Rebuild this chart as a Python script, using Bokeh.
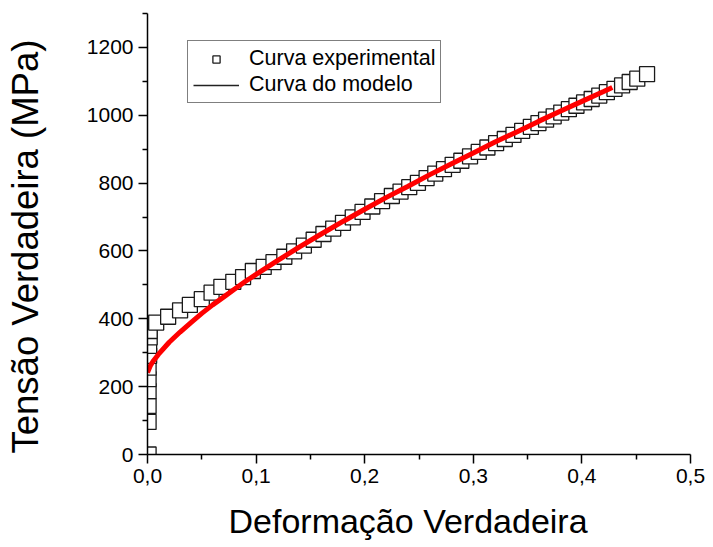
from bokeh.plotting import figure
from bokeh.models import Range1d, FixedTicker, Legend, LegendItem, CustomJSTickFormatter, Title
from bokeh.embed import file_html
from bokeh.resources import INLINE

# Experimental curve (true strain, true stress MPa)
strain_exp = [0.001, 0.001, 0.001, 0.001, 0.001, 0.001, 0.0015, 0.0015, 0.002, 0.002,
              0.008, 0.019, 0.030, 0.039, 0.050, 0.059, 0.068, 0.079, 0.088, 0.097,
              0.107, 0.116, 0.126, 0.135, 0.144, 0.153, 0.162, 0.171, 0.180, 0.189,
              0.198, 0.207, 0.216, 0.225, 0.233, 0.241, 0.249, 0.257, 0.265, 0.273,
              0.281, 0.289, 0.297, 0.305, 0.313, 0.321, 0.329, 0.337, 0.345, 0.353,
              0.360, 0.367, 0.374, 0.381, 0.388, 0.395, 0.402, 0.409, 0.416, 0.423,
              0.430, 0.437, 0.444, 0.451, 0.460]
stress_exp = [0, 96, 143, 187, 222, 256, 291, 320, 345, 364,
              389, 406, 425, 441, 458, 477, 494, 509, 523, 541,
              553, 567, 583, 599, 616, 633, 650, 666, 683, 699,
              715, 731, 747, 762, 775, 788, 801, 815, 828, 841,
              854, 866, 879, 892, 905, 918, 930, 942, 954, 966,
              977, 987, 997, 1008, 1018, 1028, 1038, 1048, 1058, 1068,
              1078, 1088, 1098, 1108, 1121]

# Model curve
strain_model = [0.0, 0.0025, 0.005, 0.01, 0.02, 0.03, 0.04, 0.05, 0.06, 0.07, 0.08, 0.09,
                0.10, 0.12, 0.14, 0.16, 0.18, 0.20, 0.22, 0.24, 0.26, 0.28, 0.30, 0.32,
                0.34, 0.36, 0.38, 0.40, 0.42, 0.428]
stress_model = [242, 261, 274, 295, 331, 361, 389, 416, 441, 464, 487, 510,
                531, 572, 612, 650, 687, 723, 758, 791, 825, 857, 889, 921,
                951, 982, 1012, 1041, 1070, 1082]

x_ticks = [0.0, 0.1, 0.2, 0.3, 0.4, 0.5]
x_minor = [0.05, 0.15, 0.25, 0.35, 0.45]
y_ticks = [0, 200, 400, 600, 800, 1000, 1200]
y_minor = [100, 300, 500, 700, 900, 1100, 1300]

x_title = "Deformação Verdadeira"
y_title = "Tensão Verdadeira (MPa)"

FONT = "Liberation Sans"

p = figure(width=713, height=547, output_backend="svg", toolbar_location=None,
           x_range=Range1d(0, 0.5), y_range=Range1d(0, 1300),
           min_border_left=147, min_border_right=23, min_border_top=13, min_border_bottom=93)
p.outline_line_color = None
p.xgrid.visible = False
p.ygrid.visible = False
p.background_fill_color = "white"
p.border_fill_color = "white"

p.xaxis.ticker = FixedTicker(ticks=x_ticks, minor_ticks=x_minor)
p.yaxis.ticker = FixedTicker(ticks=y_ticks, minor_ticks=y_minor)
p.xaxis.formatter = CustomJSTickFormatter(code="return tick.toFixed(1).replace('.', ',');")

for ax in (p.xaxis, p.yaxis):
    ax.axis_line_color = "black"
    ax.axis_line_width = 1.5
    ax.major_tick_line_color = "black"
    ax.major_tick_line_width = 1.5
    ax.minor_tick_line_color = "black"
    ax.minor_tick_line_width = 1.5
    ax.major_tick_in = 0
    ax.major_tick_out = 9
    ax.minor_tick_in = 0
    ax.minor_tick_out = 5
    ax.major_label_text_font = FONT
    ax.major_label_text_font_size = "21px"
    ax.major_label_text_color = "black"
    ax.major_label_standoff = 5

# axis titles (offset along the axis like the original)
p.add_layout(Title(text=x_title, align="left", offset=81, text_font=FONT,
                   text_font_size="34px", text_font_style="normal", text_color="black",
                   standoff=0, padding=dict(top=14, right=0, bottom=0, left=0)), "below")
p.add_layout(Title(text=y_title, align="left", offset=1, text_font=FONT,
                   text_font_size="36.5px", text_font_style="normal", text_color="black",
                   standoff=4, padding=dict(top=0, right=0, bottom=36, left=0)), "left")

r_exp = p.scatter(strain_exp, stress_exp, marker="square", size=15,
                  fill_color="white", line_color="#1a1a1a", line_width=1.3)
r_model = p.line(strain_model, stress_model, line_color="#ff0000", line_width=5)
r_dummy = p.line(x=[-1.0, -0.9], y=[-100, -100], line_color="#222222", line_width=1.5)

legend = Legend(items=[LegendItem(label="Curva experimental", renderers=[r_exp]),
                       LegendItem(label="Curva do modelo", renderers=[r_dummy])],
                location=(40, 351), padding=5, spacing=1,
                glyph_width=46, glyph_height=18, label_height=25, label_standoff=10,
                label_text_font=FONT, label_text_font_size="21.5px", label_text_color="black",
                border_line_color="black", border_line_width=1.2,
                background_fill_color="white", background_fill_alpha=1.0, margin=0)
p.add_layout(legend, "center")

open("out.html", "w").write(file_html(p, INLINE))
